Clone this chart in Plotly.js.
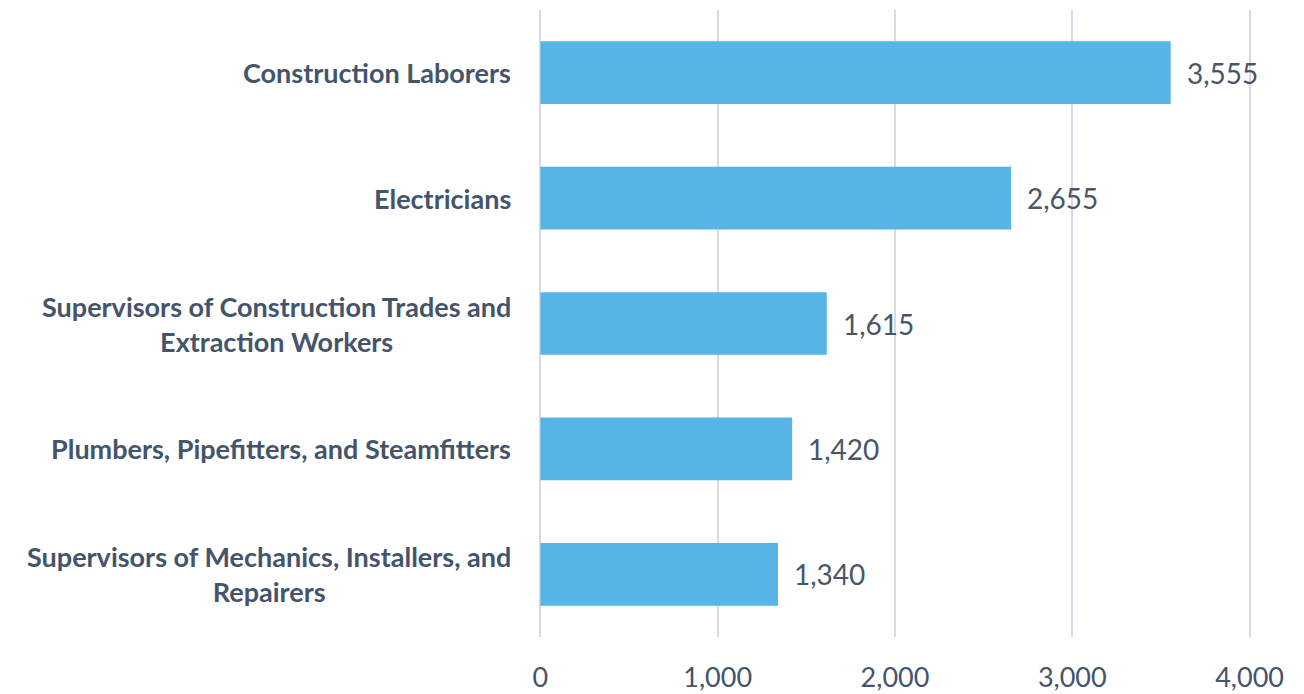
<!DOCTYPE html>
<html>
<head>
<meta charset="utf-8">
<script src="https://cdn.plot.ly/plotly-3.0.1.min.js"></script>
<style>html,body{margin:0;padding:0;background:#fff;}#chart{width:1304px;height:694px;}</style>
</head>
<body>
<div id="chart"></div>
<script>
const categories = [
  "Construction Laborers",
  "Electricians",
  "Supervisors of Construction Trades and<br>Extraction Workers",
  "Plumbers, Pipefitters, and Steamfitters",
  "Supervisors of Mechanics, Installers, and<br>Repairers"
];
const values = [3555, 2655, 1615, 1420, 1340];
const tickValues = [0, 1000, 2000, 3000, 4000];
const tickLabels = ["0", "1,000", "2,000", "3,000", "4,000"];

const textColor = "#44546A";
const fontFam = "Lato, 'Open Sans', sans-serif";

const trace = {
  type: "bar",
  orientation: "h",
  x: values,
  y: categories,
  marker: {color: "#56B4E6"},
  hoverinfo: "none"
};

const annotations = [];
categories.forEach((c, i) => {
  annotations.push({
    xref: "paper", yref: "y", x: 0, y: c, xanchor: "right", xshift: -26,
    text: "<b>" + c + "</b>", showarrow: false, align: "center",
    font: {family: fontFam, size: 27, color: textColor}
  });
  annotations.push({
    xref: "x", yref: "y", x: values[i], y: c, xanchor: "left", xshift: 14,
    text: values[i].toLocaleString("en-US"), showarrow: false,
    font: {family: fontFam, size: 28, color: "#4A5666"}
  });
});

const layout = {
  width: 1304, height: 694,
  margin: {l: 539, r: 53, t: 10, b: 57},
  paper_bgcolor: "#fff", plot_bgcolor: "#fff",
  bargap: 0.5,
  showlegend: false,
  xaxis: {
    range: [-8, 4008],
    tickvals: tickValues, ticktext: tickLabels,
    showgrid: true, gridcolor: "#D9D9E3", gridwidth: 2,
    zeroline: false, showline: false,
    ticks: "outside", ticklen: 17, tickcolor: "rgba(0,0,0,0)",
    tickfont: {family: fontFam, size: 27, color: textColor},
    fixedrange: true
  },
  yaxis: {
    autorange: "reversed",
    showticklabels: false, showgrid: false, zeroline: false, showline: false,
    fixedrange: true
  },
  annotations: annotations
};

Plotly.newPlot("chart", [trace], layout, {displayModeBar: false, staticPlot: true});
</script>
</body>
</html>
